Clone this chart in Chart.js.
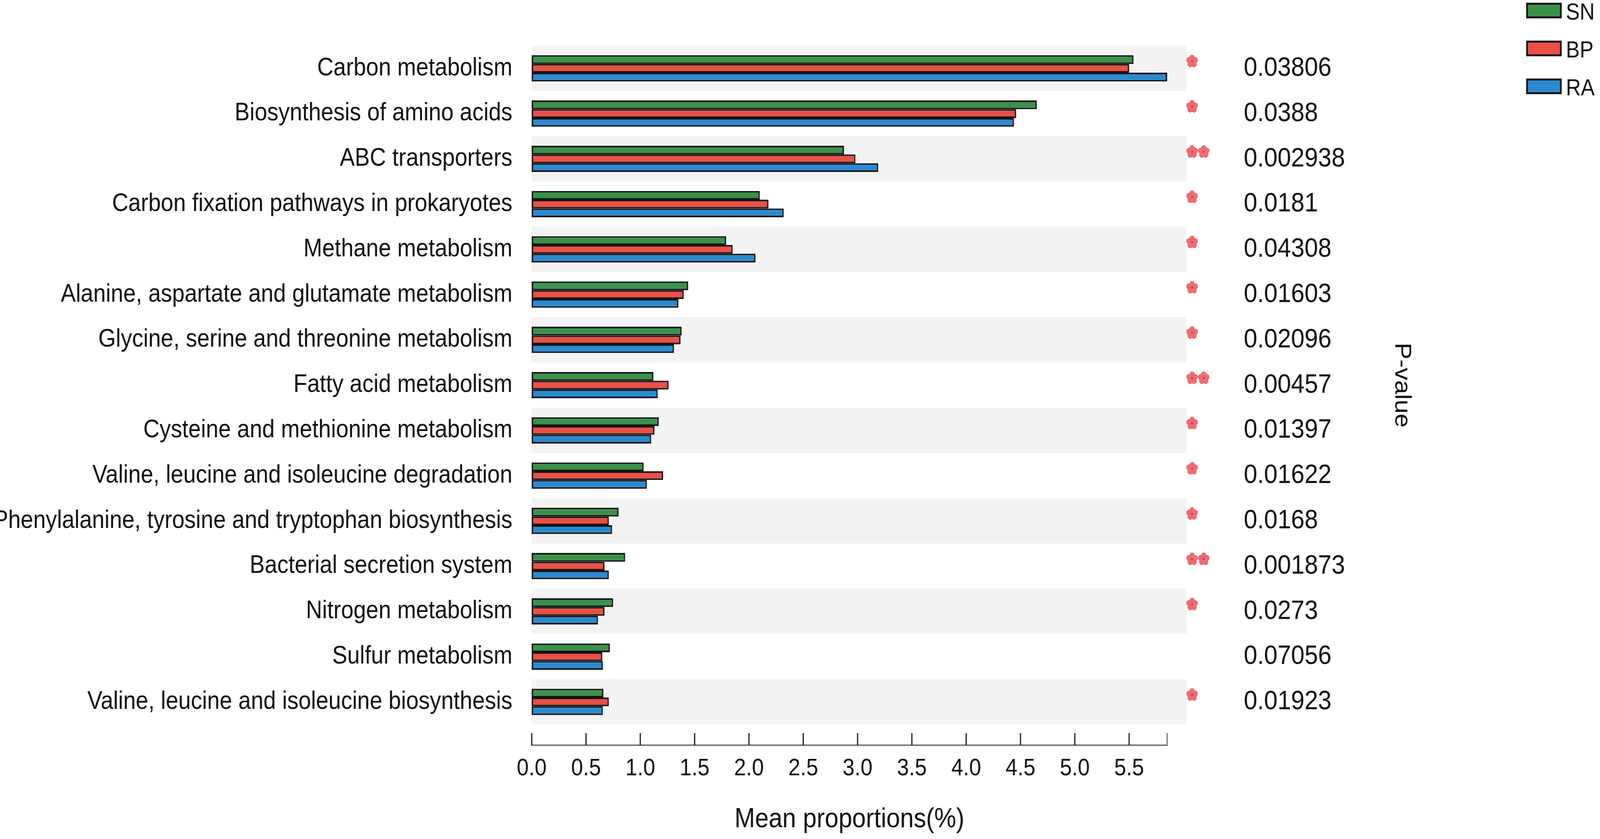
<!DOCTYPE html>
<html>
<head>
<meta charset="utf-8">
<title>Mean proportions</title>
<script src="https://cdn.jsdelivr.net/npm/chart.js@4.4.1/dist/chart.umd.min.js"></script>
<style>
  html, body { margin: 0; padding: 0; background: #ffffff; overflow: hidden; }
  #chart { display: block; }
</style>
</head>
<body>
<canvas id="chart" width="4550" height="2147" style="width:100vw;height:100vh"></canvas>
<script>
const categories = [
    'Carbon metabolism',
    'Biosynthesis of amino acids',
    'ABC transporters',
    'Carbon fixation pathways in prokaryotes',
    'Methane metabolism',
    'Alanine, aspartate and glutamate metabolism',
    'Glycine, serine and threonine metabolism',
    'Fatty acid metabolism',
    'Cysteine and methionine metabolism',
    'Valine, leucine and isoleucine degradation',
    'Phenylalanine, tyrosine and tryptophan biosynthesis',
    'Bacterial secretion system',
    'Nitrogen metabolism',
    'Sulfur metabolism',
    'Valine, leucine and isoleucine biosynthesis'
];
const snValues = [5.54, 4.65, 2.875, 2.10, 1.79, 1.44, 1.38, 1.12, 1.17, 1.03, 0.80, 0.86, 0.75, 0.72, 0.66];
const bpValues = [5.50, 4.46, 2.98, 2.18, 1.85, 1.40, 1.37, 1.26, 1.13, 1.21, 0.71, 0.67, 0.67, 0.65, 0.71];
const raValues = [5.85, 4.44, 3.19, 2.32, 2.06, 1.35, 1.31, 1.16, 1.10, 1.06, 0.74, 0.71, 0.61, 0.655, 0.655];
const pValues = ['0.03806', '0.0388', '0.002938', '0.0181', '0.04308', '0.01603', '0.02096', '0.00457',
                 '0.01397', '0.01622', '0.0168', '0.001873', '0.0273', '0.07056', '0.01923'];
const starCounts = [1, 1, 2, 1, 1, 1, 1, 2, 1, 1, 1, 2, 1, 0, 1];
const tickValues = [0, 0.5, 1.0, 1.5, 2.0, 2.5, 3.0, 3.5, 4.0, 4.5, 5.0, 5.5];
const axisMax = 5.85;

const FONT = "'Liberation Sans', Arial, Helvetica, sans-serif";
Chart.defaults.font.family = FONT;
Chart.defaults.color = '#111111';

function drawStar(ctx, cx, cy, r) {
    ctx.fillStyle = '#ee6b72';
    ctx.beginPath();
    ctx.arc(cx, cy, r * 0.5, 0, Math.PI * 2);
    ctx.fill();
    for (let k = 0; k < 5; k++) {
        const a = -Math.PI / 2 + k * 2 * Math.PI / 5;
        ctx.beginPath();
        ctx.arc(cx + Math.cos(a) * r * 0.55, cy + Math.sin(a) * r * 0.55, r * 0.45, 0, Math.PI * 2);
        ctx.fill();
    }
    ctx.fillStyle = '#333333';
    ctx.beginPath();
    ctx.arc(cx, cy, 1.8, 0, Math.PI * 2);
    ctx.fill();
}

// grey bands behind every other row
const bandPlugin = {
    id: 'bands',
    beforeDatasetsDraw(chart) {
        const { ctx, chartArea } = chart;
        const y = chart.scales.y;
        const half = (y.getPixelForValue(1) - y.getPixelForValue(0)) / 2;
        ctx.save();
        ctx.fillStyle = '#f3f3f3';
        categories.forEach((c, i) => {
            if (i % 2 !== 0) return;
            const yc = y.getPixelForValue(i);
            ctx.fillRect(chartArea.left, yc - half, chartArea.right - chartArea.left + 55, half * 2);
        });
        ctx.restore();
    }
};

// x axis line with ticks pointing up, stars, legend
const decorPlugin = {
    id: 'decor',
    afterDraw(chart) {
        const { ctx, chartArea } = chart;
        const x = chart.scales.x;
        const y = chart.scales.y;
        const axisY = chartArea.bottom + 53;
        ctx.save();
        ctx.strokeStyle = '#7a7a7a';
        ctx.lineWidth = 4;
        ctx.beginPath();
        ctx.moveTo(x.getPixelForValue(0) - 2, axisY);
        ctx.lineTo(x.getPixelForValue(axisMax) + 2, axisY);
        ctx.stroke();
        x.ticks.forEach(t => {
            const px = x.getPixelForValue(t.value);
            ctx.strokeStyle = t.value === axisMax ? '#7a7a7a' : '#222222';
            ctx.lineWidth = 3.5;
            ctx.beginPath();
            ctx.moveTo(px, axisY);
            ctx.lineTo(px, axisY - 31);
            ctx.stroke();
        });

        starCounts.forEach((n, i) => {
            const yc = y.getPixelForValue(i) - 18;
            for (let k = 0; k < n; k++) {
                drawStar(ctx, chartArea.right + 71 + k * 33, yc, 17);
            }
        });

        const ds = chart.data.datasets;
        ds.forEach((d, i) => {
            const top = 7 + i * 97;
            ctx.fillStyle = d.backgroundColor;
            ctx.fillRect(4340, top, 101, 40);
            ctx.strokeStyle = '#151515';
            ctx.lineWidth = 5;
            ctx.strokeRect(4342.5, top + 2.5, 96, 35);
            ctx.fillStyle = '#111111';
            ctx.font = '59px ' + FONT;
            ctx.textAlign = 'left';
            ctx.textBaseline = 'middle';
            ctx.fillText(d.label, 4453, top + 27);
        });
        ctx.restore();
    }
};

const ctx = document.getElementById('chart').getContext('2d');
new Chart(ctx, {
    type: 'bar',
    data: {
        labels: categories,
        datasets: [
            { label: 'SN', data: snValues, backgroundColor: '#3a9248' },
            { label: 'BP', data: bpValues, backgroundColor: '#eb4f45' },
            { label: 'RA', data: raValues, backgroundColor: '#2b8ad2' }
        ]
    },
    options: {
        indexAxis: 'y',
        responsive: false,
        devicePixelRatio: 1,
        animation: false,
        layout: { padding: { top: 117, left: 0, right: 0, bottom: 0 } },
        datasets: {
            bar: {
                categoryPercentage: 0.58,
                barPercentage: 1.0,
                borderWidth: 4,
                borderColor: '#151515',
                borderSkipped: false
            }
        },
        plugins: {
            legend: { display: false },
            tooltip: { enabled: false }
        },
        scales: {
            x: {
                type: 'linear',
                position: 'bottom',
                min: 0,
                max: axisMax,
                grid: { display: false },
                border: { display: false },
                afterBuildTicks(scale) {
                    scale.ticks = tickValues.concat([axisMax]).map(v => ({ value: v }));
                },
                afterFit(scale) {
                    scale.height = 293;
                    scale.paddingLeft = 0;
                    scale.paddingRight = 0;
                },
                ticks: {
                    font: { size: 61 },
                    color: '#111111',
                    padding: 69,
                    maxRotation: 0,
                    autoSkip: false,
                    callback: (v) => v === axisMax ? '' : Number(v).toFixed(1)
                },
                title: {
                    display: true,
                    text: 'Mean proportions(%)',
                    font: { size: 70 },
                    color: '#111111',
                    padding: { top: 0, bottom: 7 }
                }
            },
            y: {
                type: 'category',
                position: 'left',
                grid: { display: false },
                border: { display: false },
                afterFit(scale) {
                    scale.width = 1512;
                    scale.paddingTop = 0;
                    scale.paddingBottom = 0;
                },
                ticks: {
                    font: { size: 64 },
                    color: '#111111',
                    padding: 47,
                    autoSkip: false
                }
            },
            y2: {
                type: 'category',
                position: 'right',
                labels: pValues,
                offset: true,
                grid: { display: false },
                border: { display: false },
                afterFit(scale) {
                    scale.width = 1231;
                    scale.paddingTop = 0;
                    scale.paddingBottom = 0;
                },
                ticks: {
                    font: { size: 69 },
                    color: '#111111',
                    padding: 210,
                    autoSkip: false
                },
                title: {
                    display: true,
                    text: 'P-value',
                    font: { size: 64 },
                    color: '#111111',
                    padding: { top: 526, bottom: 0 }
                }
            }
        }
    },
    plugins: [bandPlugin, decorPlugin]
});
</script>
</body>
</html>
